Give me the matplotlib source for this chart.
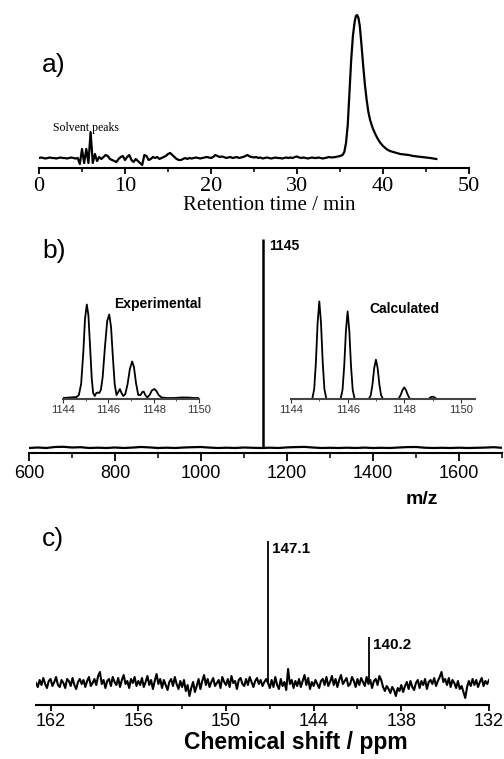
import numpy as np
import matplotlib
matplotlib.use("Agg")
import matplotlib.pyplot as plt
from matplotlib.ticker import MultipleLocator

# ---------------- data ----------------
# a) chromatogram: baseline part (0 .. 33.75 min, 0.25 min step) and main peak
base_a = [0, 0.5, 0, -0.5, 0, 0.5, 0, 0, -0.5, 0, 0.5, 0, 0, -0.5, 0, 0.5, 0, -0.5, 0,
          -6, 9, -5, 9, -5, 26, -5, 4, -3,
          1, -1, 1, 3, 2, -1, -2, -3, -4, -1, 1, 2, -2, 1, 3, -2, -4, -1, -3, -5, -7, 3,
          2, -2, -1, 1, 0, 1, -1, 0, 1, 2,
          4, 5, 3, 1, -1, -2, -2, -1, 0, -1, 0, -0.5, 0, 0.5, 0, -0.5,
          0, 0.5, 1, 0.5, 0, 1, 3, 2, 1, 1.5, 1, 0, 0.5, 1, 0, 0.5, 1, 0, 0.5, 1,
          2, 3, 1.5, 1, 0.5, 1, 0, 0.5, -0.5, 0, 0.5, 0, -0.5, 0, 0.5, 0, 0, -0.5, 0, 0.5,
          0, 0.5, 0, 1, 1.5, 0.5, 0, 0.5, 0, -0.5, 0, 0.5, 0, 0, 0.5, 0, -0.5, 0, 0.5, 1]
peak_t_a = [34.0, 34.5, 35.0, 35.3, 35.5, 35.7, 35.9, 36.1, 36.3, 36.5, 36.7, 36.85, 37.0,
            37.15, 37.3, 37.5, 37.7, 37.9, 38.1, 38.3, 38.5, 38.8, 39.1, 39.4, 39.7, 40.0,
            40.4, 40.8, 41.2, 41.6, 42.0, 42.5, 43.0, 43.5, 44.0, 44.5, 45.0, 45.5, 46.2]
peak_i_a = [0.5, 1, 2, 3, 6, 15, 33, 65, 98, 122, 136, 142, 143,
            140, 132, 113, 92, 73, 58, 46, 38, 30, 24, 19, 15, 12,
            9, 7, 6, 5, 4, 3.5, 3, 2, 1.5, 1, 0.5, 0, -1]
ticks_a = [0, 10, 20, 30, 40, 50]

# b) mass spectrum
mz_b = list(range(600, 1701, 20))
int_b = [0, 0.5, 0, 1, 1.2, 0.5, 0.8, 0, 0.3, 0, 0.5, 0, 0.4, 1, 0.6, 0,
         0.3, 0, 0.5, 0.8, 1, 0.4, 0, 0.3, 0, 0.5, 0.2, 0, 0.3, 0, 0.6, 0.9,
         1.1, 0.5, 0, 0.2, 0, 0.3, 0, 0.4, 0, 0.2, 0, 0.5, 0.9, 1, 0.3, 0,
         0.2, 0, 0.3, 0, 0.2, 0.4, 0.8, 0.2]
main_mz_b = 1145
main_h_b = 209
ticks_b = [600, 800, 1000, 1200, 1400, 1600]

# b) insets: isotope patterns
exp_mz = [1144.0, 1144.3, 1144.6, 1144.7, 1144.8, 1144.9, 1144.97, 1145.05, 1145.12, 1145.2,
          1145.27, 1145.33, 1145.4, 1145.47, 1145.53, 1145.6, 1145.67, 1145.75, 1145.85, 1145.95,
          1146.04, 1146.12, 1146.2, 1146.28, 1146.36, 1146.44, 1146.51, 1146.58, 1146.66, 1146.75,
          1146.85, 1146.95, 1147.05, 1147.13, 1147.22, 1147.32, 1147.42, 1147.5, 1147.56, 1147.63,
          1147.72, 1147.82, 1147.92, 1148.03, 1148.12, 1148.22, 1148.35, 1148.6, 1148.9, 1149.2,
          1149.5, 1149.8, 1150.0]
exp_int = [1, 1.5, 2, 4, 15, 48, 80, 94.5, 84, 50,
           20, 6, 3, 6, 6.5, 6, 9, 22, 52, 78,
           84.5, 72, 42, 15, 4, 7, 10, 6, 3, 5,
           15, 30, 37.5, 32, 16, 4, 4, 7, 7.5, 4,
           1.5, 4, 8.5, 10, 8, 4, 1.5, 1, 1, 1.5,
           1.5, 1, 1]
calc_mz = [1144.0,
           1144.75, 1144.82, 1144.88, 1144.94, 1145.0, 1145.06, 1145.12, 1145.18, 1145.25,
           1145.75, 1145.82, 1145.88, 1145.94, 1146.0, 1146.06, 1146.12, 1146.18, 1146.25,
           1146.75, 1146.82, 1146.88, 1146.94, 1147.0, 1147.06, 1147.12, 1147.18, 1147.25,
           1147.8, 1147.88, 1147.94, 1148.0, 1148.06, 1148.12, 1148.2,
           1148.85, 1148.94, 1149.0, 1149.06, 1149.15,
           1150.5]
calc_int = [0,
            0, 10, 37, 76, 97.6, 76, 37, 10, 0,
            0, 9, 33, 68, 87.6, 68, 33, 9, 0,
            0, 4, 15, 31, 39.3, 31, 15, 4, 0,
            0, 4.4, 9, 11.6, 9, 4.4, 0,
            0, 1.8, 2.3, 1.8, 0,
            0]
inset_ticks = [1144, 1146, 1148, 1150]

# c) 31P NMR: noise trace from 163 to 132 ppm, plus two signals
noise_c = [0, -4, 3, -2, 5, -1, -5, 2, 4, -3, 1, 6, -2, -4, 3, 0, -5, 4, 2, -3,
           5, -2, -6, 1, 4, -1, 3, -4, 2, 6, -3, 0, 4, -2, 7, 11, -1, 3, -5, 2,
           4, -3, 6, 1, -2, 5, -4, 3, 8, -1, 2, -5, 4, 0, 6, -3, 2, -2, 5, -4,
           1, 7, -2, 3, -6, 2, 9, -1, 4, -5, 3, -2, -7, 1, 4, -3, 6, -1, -6, 2,
           -4, 3, -8, -2, -13, -5, 1, -9, -3, 4, -6, 2, 8, -2, 4, -4, 1, 5, -3, 0,
           3, -5, 6, 1, -2, 4, -4, 7, 0, 2, -6, 3, 5, -1, -3, 4, -2, 6, 1, -4,
           2, 5, -1, 3, -3, 1, 4, 0, -5, 3, -4, 6, -2, -6, 4, -3, 1, -7, 14, -1,
           3, -5, 2, -3, 4, -4, 2, 8, -2, 5, -6, 1, -3, 3, -1, -5, 2, 4, -2, 6,
           -3, 1, 7, -2, 4, -4, 3, 8, -1, 2, 5, -3, -1, 6, 2, -4, 4, -2, 5, 1,
           -3, 6, -1, 3, -5, 2, 4, -2, 7, 3, -4, -8, -3, -6, -10, -4, -7, -13, -5, -8,
           -2, -9, -3, 1, -6, 2, -4, -7, 0, 3, -5, 2, -2, 4, -6, 1, 3, -1, 5, -3,
           2, 6, 11, 1, 4, -2, 5, -4, 3, 0, -5, 2, -6, -3, -9, -15, -4, 2, -3, 4,
           -2, 3, -4, 1, 5, -3, 2, -1, 3]
peaks_c = [147.1, 140.2]
heights_c = [142, 46]
ticks_c = [162, 156, 150, 144, 138, 132]

# ---------------- figure ----------------
W, H = 504, 759
fig = plt.figure(figsize=(W / 100, H / 100), dpi=100)
SANS = "Liberation Sans"
SERIF = "Liberation Serif"


def px_axes(left, top, right, bottom):
    return fig.add_axes([left / W, 1 - bottom / H, (right - left) / W, (bottom - top) / H])


def bottom_only(ax, lw=1.5, color="black"):
    for s in ["top", "right", "left"]:
        ax.spines[s].set_visible(False)
    ax.spines["bottom"].set_linewidth(lw)
    ax.spines["bottom"].set_color(color)
    ax.tick_params(axis="y", left=False, labelleft=False)
    ax.patch.set_alpha(0)


def ftext(x, y, s, **kw):
    fig.text(x / W, 1 - y / H, s, **kw)


# ---- a) ----
ax_a = px_axes(39, 8, 469, 168)
t_base = np.linspace(0, 33.75, len(base_a))
ax_a.plot(np.concatenate([t_base, peak_t_a]), np.concatenate([base_a, peak_i_a]),
          color="black", lw=1.6)
ax_a.set_xlim(0, 50)
ax_a.set_ylim(-10, 150)
bottom_only(ax_a)
ax_a.set_xticks(ticks_a)
ax_a.xaxis.set_minor_locator(MultipleLocator(5))
ax_a.tick_params(axis="x", which="major", direction="out", length=4.5, width=1.3, pad=2)
ax_a.tick_params(axis="x", which="minor", direction="out", length=3, width=1.1)
for lab in ax_a.get_xticklabels():
    lab.set_fontfamily(SERIF)
    lab.set_fontsize(16)
ftext(269, 205, "Retention time / min", family=SERIF, fontsize=15, ha="center", va="center")
ftext(42, 65, "a)", family=SANS, fontsize=19, ha="left", va="center")
ftext(53, 128.5, "Solvent peaks", family=SERIF, fontsize=8.5, ha="left", va="center")

# ---- b) ----
ax_b = px_axes(29, 230, 502, 453)
ax_b.plot(mz_b, int_b, color="black", lw=1.6)
ax_b.vlines([main_mz_b], 0, [main_h_b], color="black", lw=1.8)
ax_b.set_xlim(600, 1700)
ax_b.set_ylim(-5, 218)
bottom_only(ax_b)
ax_b.set_xticks(ticks_b)
ax_b.xaxis.set_minor_locator(MultipleLocator(100))
ax_b.tick_params(axis="x", which="major", direction="out", length=6, width=1.3, pad=3)
ax_b.tick_params(axis="x", which="minor", direction="out", length=3.5, width=1.1)
for lab in ax_b.get_xticklabels():
    lab.set_fontfamily(SANS)
    lab.set_fontsize(13)
ftext(422, 500, "m/z", family=SANS, fontsize=14, fontweight="bold", ha="center", va="center")
ftext(42, 251, "b)", family=SANS, fontsize=19, ha="left", va="center")
ftext(269, 246.5, "1145", family=SANS, fontsize=10, fontweight="bold", ha="left", va="center")

# insets
for (l, r, xs, ys, xl, name, nx, ny) in [
        (63, 199, exp_mz, exp_int, (1144, 1150), "Experimental", 114, 304),
        (291, 475, calc_mz, calc_int, (1144, 1150.5), "Calculated", 369, 309)]:
    ax_i = px_axes(l, 295, r, 399)
    ax_i.plot(xs, ys, color="black", lw=1.3)
    ax_i.set_xlim(*xl)
    ax_i.set_ylim(0, 104)
    bottom_only(ax_i, lw=1.5, color="#444444")
    ax_i.set_xticks(inset_ticks)
    ax_i.xaxis.set_minor_locator(MultipleLocator(1))
    ax_i.tick_params(axis="x", which="major", direction="out", length=3, width=0.8,
                     pad=1.5, colors="#333333")
    ax_i.tick_params(axis="x", which="minor", direction="out", length=1.5, width=0.6,
                     colors="#333333")
    for lab in ax_i.get_xticklabels():
        lab.set_fontfamily(SANS)
        lab.set_fontsize(8)
    ftext(nx, ny, name, family=SANS, fontsize=10, fontweight="bold", ha="left", va="center")

# ---- c) ----
ax_c = px_axes(36, 530, 489, 705)
ppm_c = np.linspace(163, 132, len(noise_c))
ax_c.plot(ppm_c, noise_c, color="black", lw=1.5)
ax_c.vlines(peaks_c, 0, heights_c, color="black", lw=1.3)
ax_c.set_xlim(163, 132)
ax_c.set_ylim(-22, 153)
bottom_only(ax_c)
ax_c.set_xticks(ticks_c)
ax_c.xaxis.set_minor_locator(MultipleLocator(3))
ax_c.tick_params(axis="x", which="major", direction="out", length=4.5, width=1.3, pad=1.5)
ax_c.tick_params(axis="x", which="minor", direction="out", length=3, width=1.1)
for lab in ax_c.get_xticklabels():
    lab.set_fontfamily(SANS)
    lab.set_fontsize(13)
ftext(296, 743, "Chemical shift / ppm", family=SANS, fontsize=16.5, fontweight="bold",
      ha="center", va="center")
ftext(42, 539, "c)", family=SANS, fontsize=19, ha="left", va="center")
for p, h in zip(peaks_c, heights_c):
    ftext(36 + (163 - p) / 31 * 453 + 4, 705 - 22 - h + 8, f"{p}", family=SANS, fontsize=11,
          fontweight="bold", ha="left", va="center")

fig.savefig("out.png", dpi=100, facecolor="white")
